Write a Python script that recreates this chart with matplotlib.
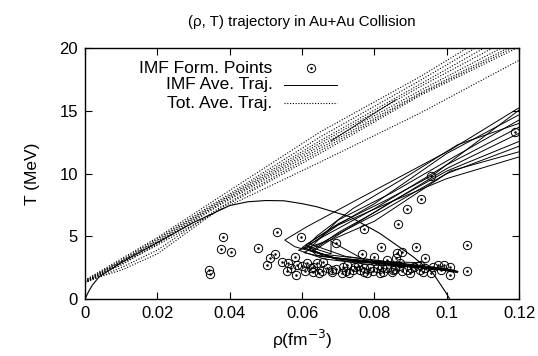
import numpy as np
import matplotlib
matplotlib.use('Agg')
import matplotlib.pyplot as plt

plt.rcParams['font.family'] = ['Liberation Sans', 'DejaVu Sans']

# IMF formation points (rho in fm^-3, T in MeV)
pts_rho = [0.1189, 0.0957, 0.0928, 0.0889, 0.0864, 0.0770, 0.0532, 0.0381, 0.0377, 0.0403,
           0.0478, 0.0344, 0.0346, 0.1055, 0.1057, 0.1009, 0.1009, 0.0915, 0.0819, 0.0694,
           0.0596, 0.0766, 0.0862, 0.0877, 0.0941, 0.0799, 0.0834, 0.0502, 0.0512, 0.0526,
           0.0545, 0.0558, 0.0561, 0.0583, 0.0581, 0.0587, 0.0608, 0.0613, 0.0631, 0.0641,
           0.0631, 0.0659, 0.0668, 0.0682, 0.0682, 0.0710, 0.0714, 0.0723, 0.0742, 0.0770,
           0.0770, 0.0779, 0.0788, 0.0806, 0.0816, 0.0820, 0.0825, 0.0848, 0.0852, 0.0857,
           0.0859, 0.0871, 0.0889, 0.0899, 0.0900, 0.0908, 0.0935, 0.0941, 0.0963, 0.0977,
           0.0991, 0.0655, 0.0695, 0.0730, 0.0755, 0.0795, 0.0835, 0.0875, 0.0925, 0.0955,
           0.0985, 0.0625, 0.0648, 0.0600, 0.0570, 0.0720, 0.0760, 0.0745, 0.0868, 0.0925]
pts_T = [13.33, 9.83, 7.94, 7.15, 5.98, 5.58, 5.34, 4.91, 3.98, 3.77,
         4.04, 2.31, 2.00, 4.33, 2.26, 2.57, 1.91, 4.17, 4.14, 4.43,
         4.91, 3.59, 3.69, 3.77, 3.24, 3.37, 3.11, 2.68, 3.30, 3.59,
         2.93, 2.25, 2.84, 1.94, 3.35, 2.71, 2.25, 2.90, 2.18, 2.84,
         2.58, 2.97, 2.44, 2.18, 2.31, 2.05, 2.58, 2.70, 2.31, 2.44,
         2.18, 2.05, 2.44, 2.50, 2.05, 2.58, 2.12, 2.18, 2.31, 2.40,
         3.24, 2.84, 2.31, 2.10, 2.45, 2.58, 2.18, 2.44, 2.53, 2.71,
         2.71, 2.20, 2.40, 2.10, 2.60, 2.20, 2.45, 2.20, 2.35, 2.10,
         2.35, 2.45, 2.05, 2.60, 2.50, 2.20, 2.30, 2.55, 2.60, 2.70]

# IMF average trajectories (solid)
imf_rho = [
    [0.122, 0.1009, 0.0751, 0.0613, 0.0552, 0.058, 0.065, 0.080, 0.095, 0.102],
    [0.122, 0.0963, 0.0834, 0.070, 0.062, 0.060, 0.070, 0.085, 0.100, 0.103],
    [0.122, 0.100, 0.080, 0.068, 0.061, 0.066, 0.080, 0.095, 0.103],
    [0.122, 0.100, 0.085, 0.070, 0.062, 0.064, 0.075, 0.090, 0.102],
    [0.122, 0.100, 0.080, 0.066, 0.0605, 0.070, 0.085, 0.100],
    [0.122, 0.100, 0.080, 0.070, 0.063, 0.068, 0.080, 0.093],
    [0.122, 0.100, 0.085, 0.072, 0.063, 0.070, 0.085, 0.101],
    [0.122, 0.100, 0.082, 0.070, 0.0605, 0.065, 0.080, 0.100, 0.103],
    [0.122, 0.101, 0.080, 0.068, 0.059, 0.066, 0.080, 0.095, 0.102],
    [0.122, 0.100, 0.085, 0.070, 0.0615, 0.068, 0.068, 0.078, 0.090, 0.100],
    [0.122, 0.103, 0.088, 0.074, 0.064, 0.062, 0.072, 0.088, 0.103],
]
imf_T = [
    [15.6, 11.87, 7.9, 5.76, 4.7, 4.17, 3.6, 3.1, 2.6, 2.3],
    [15.5, 9.9, 7.9, 6.0, 4.5, 4.1, 3.2, 2.7, 2.3, 2.2],
    [15.0, 11.6, 7.6, 5.6, 4.3, 3.4, 2.9, 2.5, 2.2],
    [14.6, 11.0, 8.5, 6.3, 4.0, 3.5, 3.0, 2.6, 2.2],
    [14.0, 10.7, 7.2, 5.0, 4.1, 3.1, 2.7, 2.3],
    [13.5, 10.4, 6.9, 5.3, 3.9, 3.3, 3.0, 2.9],
    [12.8, 10.2, 7.8, 5.5, 3.8, 3.2, 2.8, 2.3],
    [12.4, 10.0, 7.0, 5.2, 3.7, 3.4, 3.0, 2.4, 2.2],
    [11.9, 10.2, 6.2, 4.7, 3.9, 3.2, 2.7, 2.5, 2.2],
    [11.5, 9.6, 7.8, 5.9, 4.2, 3.6, 4.6, 3.0, 2.6, 2.3],
    [14.2, 12.3, 9.6, 7.2, 5.0, 4.4, 3.4, 2.8, 2.1],
]
upper_rho = [0.068, 0.086]
upper_T = [12.6, 15.9]

# total average trajectories (dotted)
tot_rho = [0.0, 0.01, 0.02, 0.0373, 0.0649, 0.0925, 0.125]
tot_T = [
    [1.5, 3.2, 4.9, 8.15, 13.3, 17.7, 23.4],
    [1.4, 3.1, 4.8, 7.9, 12.9, 17.4, 22.9],
    [1.5, 3.0, 4.7, 7.8, 12.6, 17.1, 22.4],
    [1.3, 3.0, 4.6, 7.7, 12.4, 16.9, 21.9],
    [1.4, 2.9, 4.5, 7.6, 12.2, 16.6, 21.5],
    [1.4, 2.7, 4.4, 7.5, 12.0, 16.4, 21.2],
    [1.3, 2.5, 3.9, 7.3, 11.8, 16.3, 21.0],
    [1.4, 2.3, 3.6, 7.2, 11.6, 16.2, 20.8],
    [1.3, 2.8, 4.3, 7.1, 10.9, 14.8, 19.8],
]

# boundary curve
bnd_rho = [0.0, 0.001, 0.002, 0.004, 0.01, 0.02, 0.03, 0.04, 0.045, 0.05, 0.055,
           0.06, 0.064, 0.0732, 0.0815, 0.0907, 0.0962, 0.0999, 0.1008]
bnd_T = [0.0, 0.6, 1.1, 1.8, 2.9, 4.5, 6.1, 7.45, 7.75, 7.85, 7.83,
         7.6, 7.36, 6.56, 5.23, 3.37, 2.05, 0.45, 0.0]

fig = plt.figure(figsize=(5.38, 3.56), dpi=100)
ax = fig.add_axes([0.158, 0.160, 0.807, 0.705])

for r, t in zip(imf_rho, imf_T):
    ax.plot(r, t, color='black', lw=0.7)
ax.plot(upper_rho, upper_T, color='black', lw=0.6)
for t in tot_T:
    ax.plot(tot_rho, t, color='black', lw=0.8, linestyle=(0, (1, 1.5)))
ax.plot(bnd_rho, bnd_T, color='black', lw=0.8)
ax.plot(pts_rho, pts_T, linestyle='none', marker='o', ms=6.0, mfc='none', mec='black', mew=0.7)
ax.plot(pts_rho, pts_T, linestyle='none', marker='o', ms=0.8, color='black')

ax.set_xlim(0, 0.12)
ax.set_ylim(0, 20)
ax.set_xticks([0, 0.02, 0.04, 0.06, 0.08, 0.1, 0.12])
ax.set_xticklabels(['0', '0.02', '0.04', '0.06', '0.08', '0.1', '0.12'])
ax.set_yticks([0, 5, 10, 15, 20])
ax.tick_params(direction='in', length=5, width=0.8, top=True, right=True, labelsize=12, pad=5)
for s in ax.spines.values():
    s.set_linewidth(1.0)

ax.set_title('(\u03c1, T) trajectory in Au+Au Collision', fontsize=10.8, pad=16)
ax.set_xlabel('\u03c1(fm$^{-3}$)', fontsize=12.5, labelpad=5)
ax.set_ylabel('T (MeV)', fontsize=12.5, labelpad=14)

# gnuplot-style key
ky = [0.919, 0.853, 0.780]
labels = ['IMF Form. Points', 'IMF Ave. Traj.', 'Tot. Ave. Traj.']
for y, lab in zip(ky, labels):
    ax.text(0.432, y, lab, transform=ax.transAxes, ha='right', va='center', fontsize=12.5)
ax.plot([0.520], [ky[0]], transform=ax.transAxes, marker='o', ms=6.0, mfc='none', mec='black', mew=0.7)
ax.plot([0.520], [ky[0]], transform=ax.transAxes, marker='o', ms=0.8, color='black')
ax.plot([0.459, 0.581], [ky[1], ky[1]], transform=ax.transAxes, color='black', lw=0.7)
ax.plot([0.459, 0.581], [ky[2], ky[2]], transform=ax.transAxes, color='black', lw=0.8, linestyle=(0, (1, 1.5)))

fig.savefig('out.png', dpi=100)
